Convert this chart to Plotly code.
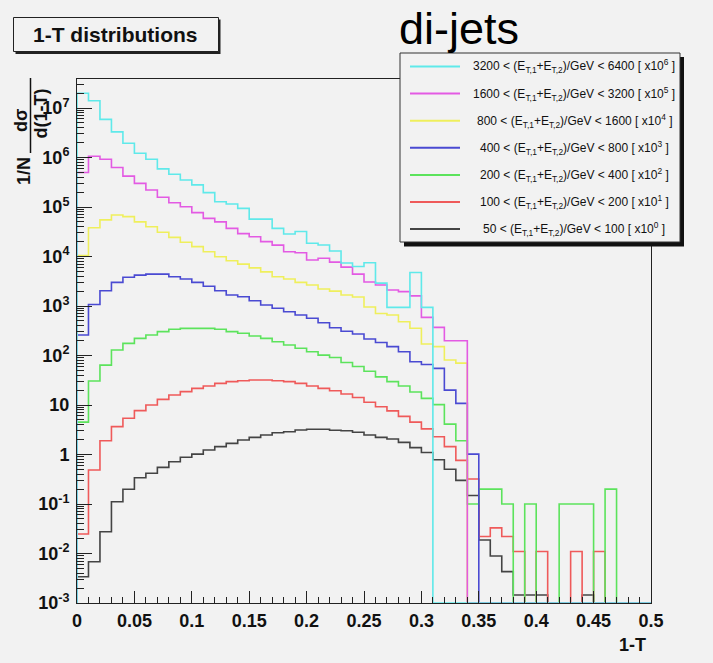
import plotly.graph_objects as go

# ---------------------------------------------------------------------------
# 1-T (thrust) distributions for di-jet events, 50 bins of width 0.01 in 1-T.
# Values are the plotted ones, i.e. already multiplied by the factor given
# in the legend for each E_T window.
# ---------------------------------------------------------------------------
n_bins = 50
bin_width = 0.01

et_low = [3200, 1600, 800, 400, 200, 100, 50]
et_high = [6400, 3200, 1600, 800, 400, 200, 100]
scale_exp = [6, 5, 4, 3, 2, 1, 0]

h_3200 = [1.98e7, 1.40e7, 5.9e6, 3.3e6, 1.94e6, 1.22e6, 9.2e5, 5.9e5, 4.6e5, 3.5e5,
          2.8e5, 1.95e5, 1.28e5, 1.15e5, 9.4e4, 5.7e4, 5.7e4, 3.7e4, 2.85e4, 3.2e4,
          1.85e4, 1.71e4, 1.29e4, 7.4e3, 6.3e3, 7.5e3, 2.9e3, 940, 940, 4.75e3,
          940, 0, 0, 0, 0, 0, 0, 0, 0, 0,
          0, 0, 0, 0, 0, 0, 0, 0, 0, 0]

h_1600 = [4.98e5, 1.06e6, 9.2e5, 6.3e5, 4.2e5, 3.0e5, 2.2e5, 1.57e5, 1.22e5, 1.01e5,
          7.7e4, 5.9e4, 5.0e4, 3.7e4, 2.9e4, 2.5e4, 2.0e4, 1.7e4, 1.25e4, 1.19e4,
          8.5e3, 9.2e3, 7.7e3, 6.1e3, 4.4e3, 3.05e3, 2.65e3, 2.1e3, 1.95e3, 1.6e3,
          590, 370, 199, 199, 0, 0, 0, 0, 0, 0,
          0, 0, 0, 0, 0, 0, 0, 0, 0, 0]

h_800 = [1.05e4, 3.8e4, 5.5e4, 6.9e4, 6.4e4, 5.0e4, 4.0e4, 3.1e4, 2.44e4, 1.94e4,
         1.58e4, 1.25e4, 9.9e3, 8.2e3, 7.0e3, 5.9e3, 4.9e3, 3.9e3, 3.5e3, 3.0e3,
         2.65e3, 2.2e3, 2.0e3, 1.67e3, 1.52e3, 955, 705, 660, 480, 355,
         171, 151, 81, 70, 0, 0, 0, 0, 0, 0,
         0, 0, 0, 0, 0, 0, 0, 0, 0, 0]

h_400 = [259, 1.07e3, 2.04e3, 3.0e3, 3.8e3, 4.2e3, 4.4e3, 4.4e3, 3.9e3, 3.5e3,
         3.0e3, 2.5e3, 2.04e3, 1.67e3, 1.54e3, 1.28e3, 1.05e3, 900, 767, 658,
         565, 460, 363, 310, 272, 215, 183, 151, 119, 75,
         66, 55, 20, 10.8, 1.02, 0, 0, 0, 0, 0,
         0, 0, 0, 0, 0, 0, 0, 0, 0, 0]

h_200 = [4.5, 30.5, 64, 129, 176, 222, 259, 303, 338, 354,
         354, 354, 338, 303, 281, 248, 222, 190, 163, 140,
         119, 102, 91, 72, 60, 48, 37, 29.6, 24.2, 18.3,
         13.6, 10.2, 4.1, 1.9, 0.1, 0.2, 0.2, 0.1, 0, 0.1,
         0, 0, 0.1, 0.1, 0.1, 0, 0.2, 0, 0, 0]

h_100 = [0.0248, 0.486, 1.9, 3.65, 5.4, 7.7, 10, 13, 15.9, 18.6,
         21.7, 24.2, 27.4, 29.6, 31, 32, 32, 31, 29.6, 27.4,
         24.2, 21.7, 19.4, 16.7, 14.2, 11.4, 9.2, 7.6, 5.9, 4.5,
         3.3, 2.29, 1.44, 0.76, 0.32, 0.022, 0.033, 0.022, 0.011, 0,
         0.011, 0, 0, 0.011, 0, 0.011, 0, 0, 0, 0]

h_50 = [3.4e-3, 6.8e-3, 0.0275, 0.111, 0.198, 0.34, 0.417, 0.55, 0.716, 0.877,
        1.02, 1.23, 1.44, 1.68, 1.96, 2.22, 2.48, 2.76, 2.89, 3.13,
        3.23, 3.23, 3.08, 3.01, 2.82, 2.48, 2.22, 2.06, 1.76, 1.38,
        1.10, 0.785, 0.505, 0.30, 0.149, 0.0188, 8.9e-3, 4.3e-3, 1.45e-3, 1.45e-3,
        1.45e-3, 0, 0, 0, 1.45e-3, 0, 0, 0, 0, 0]

histos = [h_3200, h_1600, h_800, h_400, h_200, h_100, h_50]
colors = ["#5fe9ea", "#e35ae3", "#efef5c", "#4a4ad2", "#5ce35c", "#ef5a5a", "#444444"]

x_tick_vals = [0, 0.05, 0.1, 0.15, 0.2, 0.25, 0.3, 0.35, 0.4, 0.45, 0.5]
x_tick_text = ["0", "0.05", "0.1", "0.15", "0.2", "0.25", "0.3", "0.35", "0.4", "0.45", "0.5"]
y_decades = list(range(-3, 8))

Y_MIN = 1e-3          # empty bins are drawn on the bottom of the frame
LOG_TOP = 7.586

# canvas geometry (pixels)
W, H = 713, 663
FX0, FX1 = 77, 651
FY_TOP, FY_BOT = 79, 603
BG = "#f2f2f2"
FONT = "Liberation Sans, Arial, Helvetica, sans-serif"


def px(xp):
    return (xp - FX0) / (FX1 - FX0)


def py(yp):
    return (FY_BOT - yp) / (FY_BOT - FY_TOP)


edges = [i * bin_width for i in range(n_bins + 1)]

fig = go.Figure()

# draw the lowest window first so the high-E_T curves sit on top
for vals, col in reversed(list(zip(histos, colors))):
    ys = [v if v > 0 else Y_MIN for v in vals]
    xs = [edges[0]] + edges[:-1] + [edges[-1], edges[-1]]
    yv = [Y_MIN] + ys + [ys[-1], Y_MIN]
    fig.add_trace(go.Scatter(
        x=xs, y=yv, mode="lines", line=dict(color=col, width=1.6, shape="hv"),
        showlegend=False, hoverinfo="skip"))

y_tick_text = []
for d in y_decades:
    if d == 0:
        y_tick_text.append("1")
    elif d == 1:
        y_tick_text.append("10")
    else:
        y_tick_text.append("10<sup>%d</sup>" % d)

y_minor = [m * 10.0 ** d for d in range(-3, 8) for m in range(2, 10)
           if m * 10.0 ** d < 10 ** LOG_TOP]

tickfont = dict(family=FONT, size=18, color="#111111", weight="bold")

fig.update_xaxes(
    range=[0, 0.5], showline=True, linecolor="#222222", linewidth=1, mirror=True,
    showgrid=False, zeroline=False,
    tickmode="array", tickvals=x_tick_vals, ticktext=x_tick_text,
    ticks="inside", ticklen=12, tickwidth=1, tickcolor="#222222",
    minor=dict(ticks="inside", dtick=0.01, tick0=0, ticklen=6, tickwidth=1,
               tickcolor="#222222", showgrid=False),
    tickfont=tickfont, ticklabelstandoff=1,
)
fig.update_yaxes(
    type="log", range=[-3, LOG_TOP], showline=True, linecolor="#222222", linewidth=1,
    mirror=True, showgrid=False, zeroline=False,
    tickmode="array", tickvals=[10.0 ** d for d in y_decades], ticktext=y_tick_text,
    ticks="inside", ticklen=15, tickwidth=1, tickcolor="#222222",
    minor=dict(ticks="inside", tickmode="array", tickvals=y_minor, ticklen=7,
               tickwidth=1, tickcolor="#222222", showgrid=False),
    tickfont=tickfont, ticklabelstandoff=3,
)

shapes = []
annotations = []

# title box with shadow
shapes.append(dict(type="rect", xref="paper", yref="paper",
                   x0=px(15.5), x1=px(220.5), y0=py(54), y1=py(19.5),
                   fillcolor="#222222", line=dict(width=0), layer="above"))
shapes.append(dict(type="rect", xref="paper", yref="paper",
                   x0=px(13.5), x1=px(218.5), y0=py(51.5), y1=py(17.5),
                   fillcolor=BG, line=dict(color="#222222", width=1), layer="above"))
annotations.append(dict(text="1-T distributions", xref="paper", yref="paper",
                        x=px(115), y=py(35), showarrow=False, xanchor="center",
                        yanchor="middle",
                        font=dict(family=FONT, size=21, color="#111111", weight="bold")))

annotations.append(dict(text="di-jets", xref="paper", yref="paper",
                        x=px(459), y=py(28), showarrow=False, xanchor="center",
                        yanchor="middle",
                        font=dict(family=FONT, size=45, color="#000000")))

# legend box with shadow
shapes.append(dict(type="rect", xref="paper", yref="paper",
                   x0=px(404), x1=px(684), y0=py(246.5), y1=py(57),
                   fillcolor="#111111", line=dict(width=0), layer="above"))
shapes.append(dict(type="rect", xref="paper", yref="paper",
                   x0=px(400), x1=px(680), y0=py(242), y1=py(53),
                   fillcolor=BG, line=dict(color="#333333", width=1), layer="above"))

row_y0, row_step = 66.5, 27.1
for i, col in enumerate(colors):
    yr = row_y0 + i * row_step
    shapes.append(dict(type="line", xref="paper", yref="paper",
                       x0=px(410), x1=px(460), y0=py(yr), y1=py(yr),
                       line=dict(color=col, width=2), layer="above"))
    label = ("%d &lt; (E<sub>T,1</sub>+E<sub>T,2</sub>)/GeV &lt; %d [ x10<sup>%d</sup> ]"
             % (et_low[i], et_high[i], scale_exp[i]))
    annotations.append(dict(text=label, xref="paper", yref="paper",
                            x=px(574), y=py(yr), showarrow=False, xanchor="center",
                            yanchor="middle",
                            font=dict(family=FONT, size=12, color="#111111")))

# y-axis title: 1/N  dsigma / d(1-T)
ytf = dict(family=FONT, size=18, color="#111111", weight="bold")
annotations.append(dict(text="1/N", xref="paper", yref="paper", x=px(24), y=py(171),
                        showarrow=False, textangle=-90, xanchor="center",
                        yanchor="middle", font=ytf))
annotations.append(dict(text="dσ", xref="paper", yref="paper", x=px(21), y=py(121),
                        showarrow=False, textangle=-90, xanchor="center",
                        yanchor="middle", font=ytf))
annotations.append(dict(text="d(1-T)", xref="paper", yref="paper", x=px(40.5), y=py(114),
                        showarrow=False, textangle=-90, xanchor="center",
                        yanchor="middle", font=ytf))
shapes.append(dict(type="line", xref="paper", yref="paper",
                   x0=px(30.5), x1=px(30.5), y0=py(153), y1=py(78),
                   line=dict(color="#111111", width=1.5)))

# x-axis title
annotations.append(dict(text="1-T", xref="paper", yref="paper", x=px(648), y=py(645),
                        showarrow=False, xanchor="right", yanchor="middle", font=ytf))

fig.update_layout(
    width=W, height=H,
    margin=dict(l=FX0, r=W - FX1, t=FY_TOP, b=H - FY_BOT, pad=0),
    paper_bgcolor=BG, plot_bgcolor=BG,
    shapes=shapes, annotations=annotations,
    showlegend=False,
)

fig.write_html("out.html")
